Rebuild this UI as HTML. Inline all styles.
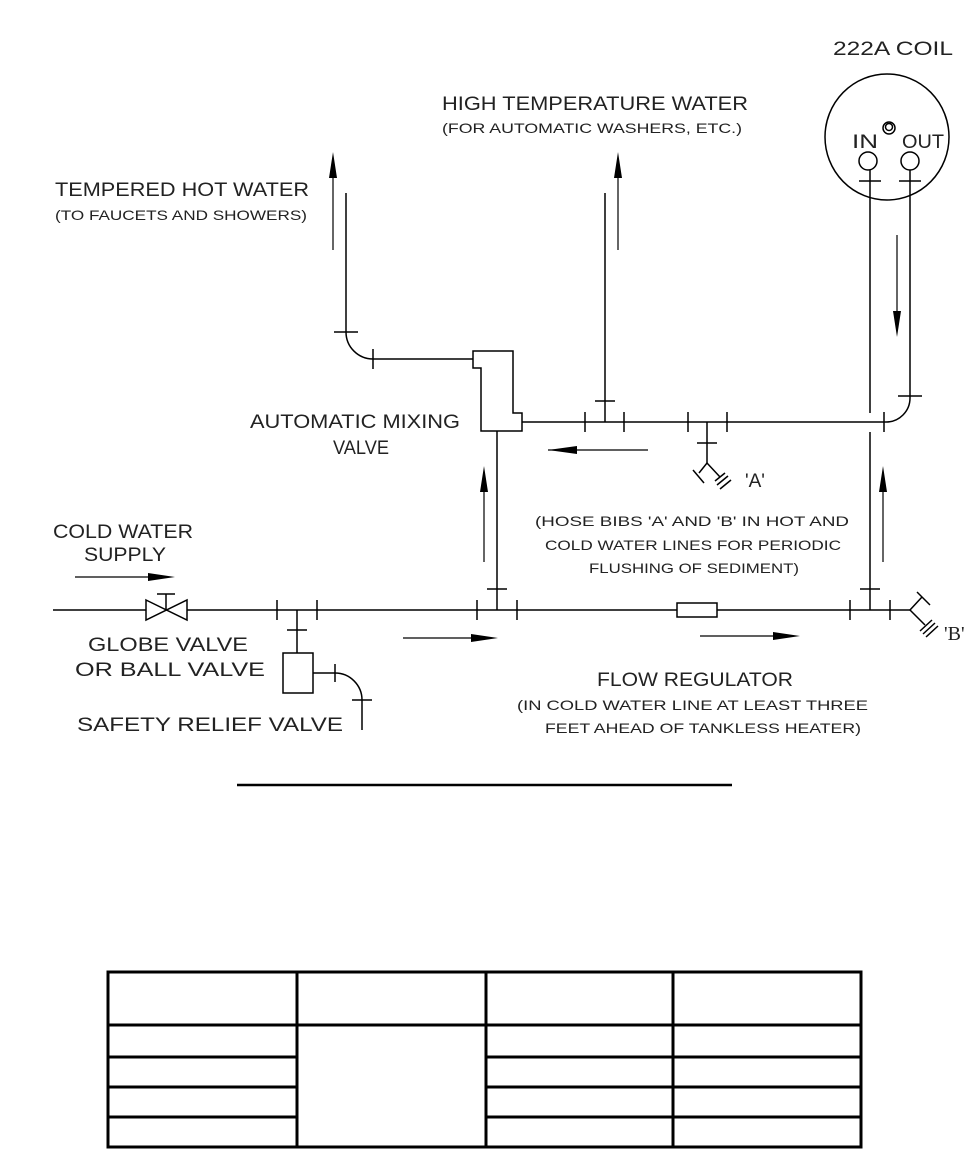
<!DOCTYPE html>
<html><head><meta charset="utf-8"><style>
html,body{margin:0;padding:0;background:#fff;}
svg{display:block;}
text{font-family:"Liberation Sans",sans-serif;fill:#222;}
.m{font-size:19px;}
.s{font-size:14px;}
</style></head><body>
<svg width="973" height="1150" viewBox="0 0 973 1150" xmlns="http://www.w3.org/2000/svg">
<g stroke="#000" stroke-width="1.5" fill="none">
<path d="M346 193 V332 A27 27 0 0 0 373 359 H473"/>
<line x1="334" y1="332" x2="358" y2="332"/>
<line x1="373" y1="349" x2="373" y2="369"/>
<path d="M473 351 H513 V413 H522 V431 H481 V368 H473 Z"/>
<line x1="605" y1="193" x2="605" y2="422"/>
<line x1="595" y1="401" x2="615" y2="401"/>
<path d="M522 422 H886 A24 24 0 0 0 910 398 V170"/>
<line x1="585" y1="412" x2="585" y2="432"/>
<line x1="624" y1="412" x2="624" y2="432"/>
<line x1="688" y1="412" x2="688" y2="432"/>
<line x1="727" y1="412" x2="727" y2="432"/>
<line x1="884" y1="412" x2="884" y2="432"/>
<line x1="898" y1="396" x2="922" y2="396"/>
<line x1="707" y1="422" x2="707" y2="463"/>
<line x1="697" y1="443" x2="717" y2="443"/>
<path d="M699 473 L707 463 L720 477"/>
<line x1="693" y1="470" x2="704" y2="483"/>
<line x1="715" y1="481" x2="725" y2="473"/>
<line x1="717" y1="485" x2="728" y2="476"/>
<line x1="720" y1="489" x2="731" y2="480"/>
<line x1="870" y1="170" x2="870" y2="413"/>
<line x1="870" y1="432" x2="870" y2="610"/>
<line x1="859" y1="181" x2="881" y2="181"/>
<line x1="899" y1="181" x2="921" y2="181"/>
<line x1="860" y1="589" x2="880" y2="589"/>
<line x1="497" y1="431" x2="497" y2="610"/>
<line x1="487" y1="589" x2="507" y2="589"/>
<line x1="53" y1="610" x2="910" y2="610"/>
<line x1="277" y1="600" x2="277" y2="620"/>
<line x1="317" y1="600" x2="317" y2="620"/>
<line x1="477" y1="600" x2="477" y2="620"/>
<line x1="517" y1="600" x2="517" y2="620"/>
<line x1="850" y1="600" x2="850" y2="620"/>
<line x1="890" y1="600" x2="890" y2="620"/>
<path d="M146 600 L187 620 V600 L146 620 Z" fill="#fff"/>
<line x1="166" y1="610" x2="166" y2="594"/>
<line x1="157" y1="594" x2="175" y2="594"/>
<line x1="297" y1="610" x2="297" y2="653"/>
<line x1="287" y1="630" x2="307" y2="630"/>
<rect x="283" y="653" width="30" height="40"/>
<path d="M313 673 H335 A27 27 0 0 1 362 700 V730"/>
<line x1="335" y1="664" x2="335" y2="682"/>
<line x1="352" y1="700" x2="372" y2="700"/>
<rect x="677" y="603" width="40" height="14" fill="#fff"/>
<path d="M922 597 L910 610 L925 625"/>
<line x1="917" y1="592" x2="930" y2="605"/>
<line x1="920" y1="631" x2="932" y2="620"/>
<line x1="923" y1="634" x2="935" y2="623"/>
<line x1="926" y1="637" x2="938" y2="626"/>
<ellipse cx="887" cy="137" rx="62" ry="63"/>
<circle cx="868" cy="161" r="9"/>
<circle cx="910" cy="161" r="9"/>
<circle cx="889" cy="128" r="6"/>
<circle cx="889" cy="127" r="3.5"/>
<g stroke-width="1.2">
<line x1="333" y1="175" x2="333" y2="250"/>
<line x1="618" y1="175" x2="618" y2="250"/>
<line x1="897" y1="235" x2="897" y2="312"/>
<line x1="484" y1="490" x2="484" y2="562"/>
<line x1="883" y1="490" x2="883" y2="562"/>
<line x1="548" y1="450" x2="648" y2="450"/>
<line x1="75" y1="577" x2="150" y2="577"/>
<line x1="403" y1="638" x2="475" y2="638"/>
<line x1="700" y1="636" x2="775" y2="636"/>
</g>
<line x1="237" y1="785" x2="732" y2="785" stroke-width="2.5"/>
</g>
<g fill="#000">
<path d="M333 152 L329 178 L337 178 Z"/>
<path d="M618 152 L614 178 L622 178 Z"/>
<path d="M897 337 L893 311 L901 311 Z"/>
<path d="M484 466 L480 492 L488 492 Z"/>
<path d="M883 466 L879 492 L887 492 Z"/>
<path d="M548 450 L577 446 L577 454 Z"/>
<path d="M175 577 L148 573 L148 581 Z"/>
<path d="M498 638 L471 634 L471 642 Z"/>
<path d="M800 636 L773 632 L773 640 Z"/>
</g>
<g stroke="#000" stroke-width="3" fill="none">
<rect x="108" y="972" width="753" height="175"/>
<line x1="297" y1="972" x2="297" y2="1147"/>
<line x1="486" y1="972" x2="486" y2="1147"/>
<line x1="673" y1="972" x2="673" y2="1147"/>
<line x1="108" y1="1025" x2="861" y2="1025"/>
<line x1="108" y1="1057" x2="297" y2="1057"/>
<line x1="108" y1="1087" x2="297" y2="1087"/>
<line x1="108" y1="1117" x2="297" y2="1117"/>
<line x1="486" y1="1057" x2="861" y2="1057"/>
<line x1="486" y1="1087" x2="861" y2="1087"/>
<line x1="486" y1="1117" x2="861" y2="1117"/>
</g>
<text class="m" x="833" y="55" textLength="120" lengthAdjust="spacingAndGlyphs">222A COIL</text>
<text class="m" x="852" y="148" textLength="26" lengthAdjust="spacingAndGlyphs">IN</text>
<text class="m" x="902" y="148" textLength="42" lengthAdjust="spacingAndGlyphs">OUT</text>
<text class="m" x="442" y="110" textLength="306" lengthAdjust="spacingAndGlyphs">HIGH TEMPERATURE WATER</text>
<text class="s" x="442" y="133" textLength="300" lengthAdjust="spacingAndGlyphs">(FOR AUTOMATIC WASHERS, ETC.)</text>
<text class="m" x="55" y="196" textLength="254" lengthAdjust="spacingAndGlyphs">TEMPERED HOT WATER</text>
<text class="s" x="55" y="220" textLength="252" lengthAdjust="spacingAndGlyphs">(TO FAUCETS AND SHOWERS)</text>
<text class="m" x="250" y="428" textLength="210" lengthAdjust="spacingAndGlyphs">AUTOMATIC MIXING</text>
<text class="m" x="333" y="454" textLength="56" lengthAdjust="spacingAndGlyphs">VALVE</text>
<text class="m" x="745" y="487">'A'</text>
<text class="s" x="535" y="526" textLength="314" lengthAdjust="spacingAndGlyphs">(HOSE BIBS 'A' AND 'B' IN HOT AND</text>
<text class="s" x="545" y="550" textLength="296" lengthAdjust="spacingAndGlyphs">COLD WATER LINES FOR PERIODIC</text>
<text class="s" x="589" y="573" textLength="210" lengthAdjust="spacingAndGlyphs">FLUSHING OF SEDIMENT)</text>
<text class="m" x="53" y="538" textLength="140" lengthAdjust="spacingAndGlyphs">COLD WATER</text>
<text class="m" x="84" y="561" textLength="82" lengthAdjust="spacingAndGlyphs">SUPPLY</text>
<text style="font-family:'Liberation Serif',serif;font-size:20px" x="944" y="640">'B'</text>
<text class="m" x="88" y="651" textLength="160" lengthAdjust="spacingAndGlyphs">GLOBE VALVE</text>
<text class="m" x="75" y="676" textLength="190" lengthAdjust="spacingAndGlyphs">OR BALL VALVE</text>
<text class="m" x="77" y="731" textLength="266" lengthAdjust="spacingAndGlyphs">SAFETY RELIEF VALVE</text>
<text class="m" x="597" y="686" textLength="196" lengthAdjust="spacingAndGlyphs">FLOW REGULATOR</text>
<text class="s" x="517" y="710" textLength="351" lengthAdjust="spacingAndGlyphs">(IN COLD WATER LINE AT LEAST THREE</text>
<text class="s" x="545" y="733" textLength="316" lengthAdjust="spacingAndGlyphs">FEET AHEAD OF TANKLESS HEATER)</text>
</svg>
</body></html>
